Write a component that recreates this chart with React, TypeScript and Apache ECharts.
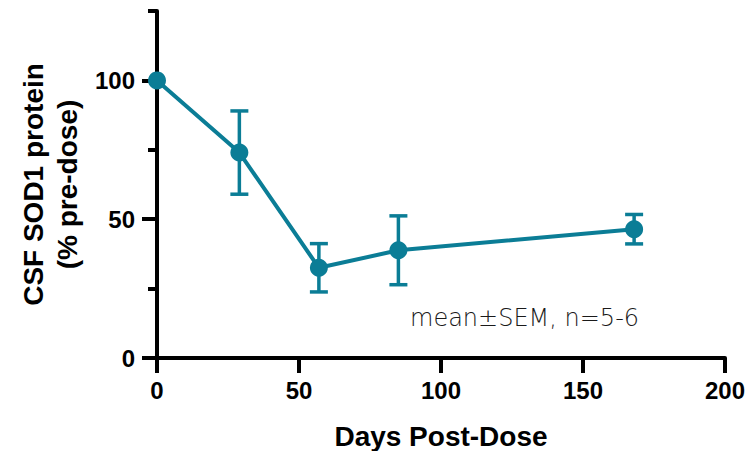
import React, { useEffect, useRef } from "react";
import * as echarts from "echarts";

const days = [0, 29, 57, 85, 168];
const meanPct = [100, 74, 32.5, 38.8, 46.4];
const semPct = [0, 15, 8.7, 12.4, 5.3];
const xTicks = [0, 50, 100, 150, 200];
const yMajorTicks = [0, 50, 100];
const yMinorTicks = [25, 75, 125];
const xTitle = "Days Post-Dose";
const yTitle = "CSF SOD1 protein\n(% pre-dose)";
const note = "mean±SEM, n=5-6";

const TEAL = "#0b7d96";
const BOLD_FONT = "Liberation Sans, Arial, sans-serif";

export default function App() {
  const ref = useRef<HTMLDivElement>(null);
  useEffect(() => {
    document.body.style.margin = "0";
    if (!ref.current) return;
    const chart = echarts.init(ref.current, null, { renderer: "svg" });
    const errData = days.map((d, i) => [d, meanPct[i] - semPct[i], meanPct[i] + semPct[i]]);
    chart.setOption({
      animation: false,
      backgroundColor: "#ffffff",
      grid: { left: 157, right: 26, top: 11, bottom: 93, containLabel: false, outerBoundsMode: "none" },
      xAxis: {
        type: "value",
        min: 0,
        max: 200,
        interval: 50,
        name: xTitle,
        nameLocation: "middle",
        nameGap: 64,
        nameTextStyle: { fontFamily: BOLD_FONT, fontWeight: "bold", fontSize: 28, color: "#000" },
        axisLine: { show: true, lineStyle: { color: "#000", width: 4 } },
        axisTick: { show: true, length: 15, lineStyle: { color: "#000", width: 4 }, customValues: xTicks },
        axisLabel: { fontFamily: BOLD_FONT, fontWeight: "bold", fontSize: 24, color: "#000", margin: 20, customValues: xTicks },
        splitLine: { show: false },
      },
      yAxis: [
        {
          type: "value",
          min: 0,
          max: 125,
          interval: 25,
          name: yTitle,
          nameLocation: "middle",
          nameRotate: 90,
          nameGap: 73,
          nameTextStyle: { fontFamily: BOLD_FONT, fontWeight: "bold", fontSize: 28, color: "#000", lineHeight: 34 },
          axisLine: { show: true, lineStyle: { color: "#000", width: 4 } },
          axisTick: { show: true, length: 15, lineStyle: { color: "#000", width: 4 }, customValues: yMajorTicks },
          axisLabel: {
            fontFamily: BOLD_FONT,
            fontWeight: "bold",
            fontSize: 24,
            color: "#000",
            margin: 22,
            customValues: yMajorTicks,
            formatter: (v: number) => (v % 50 === 0 ? String(v) : ""),
          },
          splitLine: { show: false },
        },
        {
          type: "value",
          position: "left",
          min: 0,
          max: 125,
          interval: 25,
          axisLine: { show: false },
          axisTick: { show: true, length: 9, lineStyle: { color: "#000", width: 4 }, customValues: yMinorTicks },
          axisLabel: { show: false },
          splitLine: { show: false },
        },
      ],
      graphic: [
        {
          type: "text",
          left: 410,
          top: 306,
          style: { text: note, fontFamily: "DejaVu Sans", fontSize: 24, fill: "#1a1a1a", fontWeight: 300 },
        },
      ],
      series: [
        {
          type: "custom",
          yAxisIndex: 0,
          z: 3,
          data: errData,
          renderItem: (params: any, api: any) => {
            const x = api.value(0);
            const lo = api.value(1);
            const hi = api.value(2);
            if (hi - lo <= 0) return { type: "group", children: [] };
            const pLo = api.coord([x, lo]);
            const pHi = api.coord([x, hi]);
            const w = 9;
            const style = { stroke: TEAL, lineWidth: 3.5 };
            return {
              type: "group",
              children: [
                { type: "line", shape: { x1: pLo[0], y1: pLo[1], x2: pHi[0], y2: pHi[1] }, style },
                { type: "line", shape: { x1: pHi[0] - w, y1: pHi[1], x2: pHi[0] + w, y2: pHi[1] }, style },
                { type: "line", shape: { x1: pLo[0] - w, y1: pLo[1], x2: pLo[0] + w, y2: pLo[1] }, style },
              ],
            };
          },
        },
        {
          type: "line",
          yAxisIndex: 0,
          z: 4,
          data: days.map((d, i) => [d, meanPct[i]]),
          symbol: "circle",
          symbolSize: 18,
          itemStyle: { color: TEAL },
          lineStyle: { color: TEAL, width: 4 },
        },
      ],
    });
    return () => chart.dispose();
  }, []);
  return <div ref={ref} style={{ width: 751, height: 451 }} />;
}
